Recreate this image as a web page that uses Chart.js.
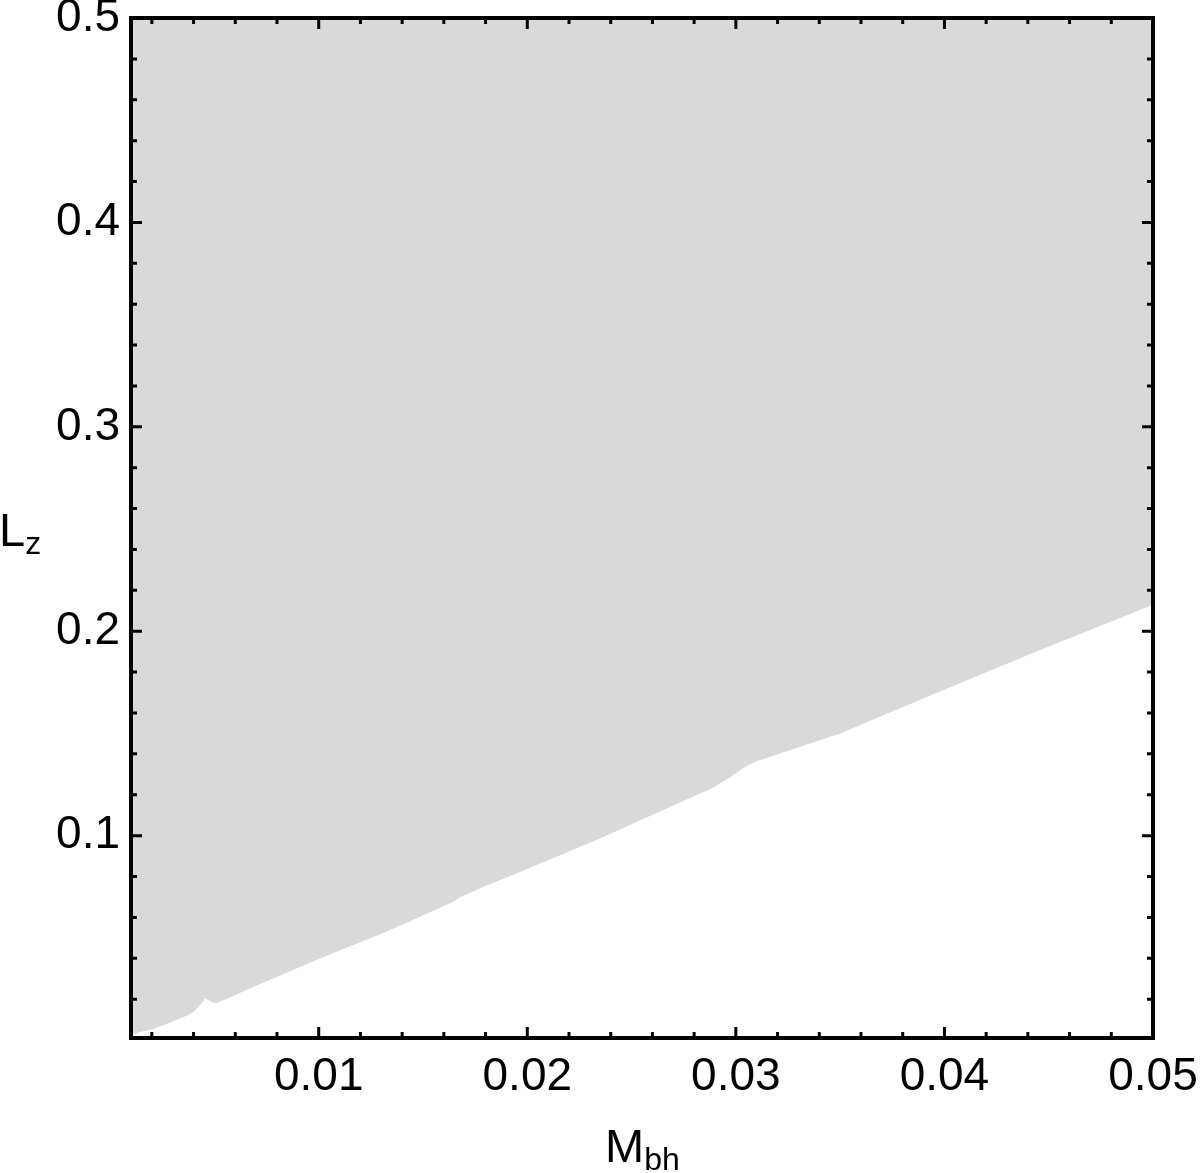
<!DOCTYPE html>
<html lang="en">
<head>
   <meta charset="UTF-8">
   <title>Lz vs Mbh</title>
   <script src="https://cdn.jsdelivr.net/npm/chart.js"></script>
   <style>
      body { margin: 0; background: #fff; }
      #wrap { position: relative; width: 1200px; height: 1173px; }
      .axlabel { position: absolute; font-family: "Liberation Sans", Arial, sans-serif; font-size: 47px; line-height: 1; color: #000; white-space: nowrap; }
      .axlabel span { font-size: 32px; position: relative; top: 8px; }
   </style>
</head>
<body>
   <div id="wrap">
      <canvas id="regionChart"></canvas>
      <div class="axlabel" style="left:-1px; top:506px;">L<span>z</span></div>
      <div class="axlabel" style="left:605px; top:1122px;">M<span>bh</span></div>
   </div>

   <script>
      // axis ranges and ticks
      const xMin = 0.001, xMax = 0.05;
      const yMin = 0.001, yMax = 0.5;
      const xTickValues = [0.01, 0.02, 0.03, 0.04, 0.05];
      const xTickLabels = ['0.01', '0.02', '0.03', '0.04', '0.05'];
      const yTickValues = [0.1, 0.2, 0.3, 0.4, 0.5];
      const yTickLabels = ['0.1', '0.2', '0.3', '0.4', '0.5'];

      // lower edge of the shaded region
      const mbh = [0.0010, 0.00144, 0.00207, 0.00271, 0.00367, 0.0040, 0.0043, 0.00447, 0.00455,
                   0.0049, 0.0051, 0.0054, 0.0059, 0.00686, 0.0100, 0.0133, 0.0164, 0.0168,
                   0.0180, 0.0196, 0.0234, 0.0282, 0.02885, 0.0298, 0.0305, 0.03096, 0.03144,
                   0.0350, 0.0397, 0.0445, 0.0500];
      const lz  = [0.0024, 0.0039, 0.0054, 0.0078, 0.0119, 0.0137, 0.0168, 0.0192, 0.0205,
                   0.0184, 0.0181, 0.0192, 0.0216, 0.0259, 0.0396, 0.0532, 0.0674, 0.0700,
                   0.0753, 0.0820, 0.0982, 0.1202, 0.1231, 0.1290, 0.1339, 0.1363, 0.1378,
                   0.1500, 0.1702, 0.1905, 0.2130];

      const tickFont = { family: '"Liberation Sans", Arial, sans-serif', size: 46 };

      // frame with inward ticks on all four sides
      const frameTicks = {
         id: 'frameTicks',
         afterDatasetsDraw(chart) {
            const { ctx, chartArea: a, scales: { x, y } } = chart;
            ctx.save();
            ctx.strokeStyle = '#000';
            ctx.lineWidth = 3;
            ctx.beginPath();
            for (let k = 1; k <= 25; k++) {
               const v = k * 0.002;
               const px = x.getPixelForValue(v);
               const len = k % 5 === 0 ? 11 : 6;
               ctx.moveTo(px, a.bottom); ctx.lineTo(px, a.bottom - len);
               ctx.moveTo(px, a.top); ctx.lineTo(px, a.top + len);
            }
            for (let k = 1; k <= 25; k++) {
               const v = k * 0.02;
               const py = y.getPixelForValue(v);
               const len = k % 5 === 0 ? 11 : 6;
               ctx.moveTo(a.left, py); ctx.lineTo(a.left + len, py);
               ctx.moveTo(a.right, py); ctx.lineTo(a.right - len, py);
            }
            ctx.stroke();
            ctx.lineWidth = 4;
            ctx.strokeRect(a.left, a.top, a.right - a.left, a.bottom - a.top);
            ctx.restore();
         }
      };

      const noPad = s => { s.paddingLeft = 0; s.paddingRight = 0; s.paddingTop = 0; s.paddingBottom = 0; };

      const ctx = document.getElementById('regionChart').getContext('2d');
      new Chart(ctx, {
         type: 'line',
         data: {
            datasets: [{
               data: mbh.map((v, i) => ({ x: v, y: lz[i] })),
               fill: 'end',
               backgroundColor: 'rgb(217, 217, 217)',
               borderWidth: 0,
               pointRadius: 0,
               tension: 0
            }]
         },
         options: {
            responsive: true,
            maintainAspectRatio: false,
            animation: false,
            events: [],
            layout: { padding: { top: 18, right: 47, left: 0, bottom: 0 } },
            plugins: { legend: { display: false }, tooltip: { enabled: false } },
            scales: {
               x: {
                  type: 'linear', position: 'bottom', min: xMin, max: xMax,
                  grid: { display: false, drawTicks: false },
                  border: { display: false },
                  ticks: { font: tickFont, color: '#000', padding: 12, maxRotation: 0, autoSkip: false,
                           callback: (v, i) => xTickLabels[i] },
                  afterBuildTicks: s => { s.ticks = xTickValues.map(v => ({ value: v })); },
                  afterFit: s => { s.height = 135; noPad(s); }
               },
               y: {
                  type: 'linear', position: 'left', min: yMin, max: yMax,
                  grid: { display: false, drawTicks: false },
                  border: { display: false },
                  ticks: { font: tickFont, color: '#000', padding: 11, autoSkip: false,
                           callback: (v, i) => yTickLabels[i] },
                  afterBuildTicks: s => { s.ticks = yTickValues.map(v => ({ value: v })); },
                  afterFit: s => { s.width = 131; noPad(s); }
               }
            }
         },
         plugins: [frameTicks]
      });
   </script>
</body>
</html>
